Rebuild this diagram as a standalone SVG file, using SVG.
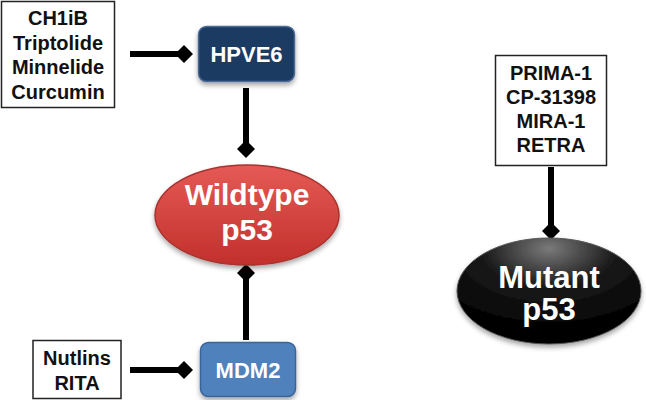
<svg xmlns="http://www.w3.org/2000/svg" width="646" height="400" viewBox="0 0 646 400">
<defs>
<style>
.box{fill:#fff;stroke:#222;stroke-width:1.5}
.lbl{font-family:"Liberation Sans",Arial,sans-serif;font-weight:bold;font-size:20px;text-anchor:middle;fill:#111}
.wl{font-family:"Liberation Sans",Arial,sans-serif;font-weight:bold;text-anchor:middle;fill:#fff}
.con{stroke:#000;stroke-width:6;fill:none;marker-end:url(#dia)}
</style>
<marker id="dia" markerUnits="userSpaceOnUse" viewBox="0 0 18 18" refX="9" refY="9" markerWidth="18" markerHeight="18" orient="auto">
<path d="M0 9 L9 0 L18 9 L9 18 Z" fill="#000"/>
</marker>
<linearGradient id="red" x1="0" y1="0" x2="0" y2="1">
<stop offset="0" stop-color="#e55a55"/>
<stop offset="1" stop-color="#c2302c"/>
</linearGradient>
<radialGradient id="blk" cx="0.5" cy="0.1" r="0.8">
<stop offset="0" stop-color="#7a7a7a"/>
<stop offset="0.45" stop-color="#1a1a1a"/>
<stop offset="1" stop-color="#000"/>
</radialGradient>
<filter id="sh" x="-20%" y="-20%" width="140%" height="150%">
<feDropShadow dx="0" dy="3" stdDeviation="2.5" flood-color="#000" flood-opacity="0.35"/>
</filter>
</defs>
<g id="connectors">
<line class="con" x1="130" y1="54" x2="184" y2="54"/>
<line class="con" x1="246" y1="88" x2="246" y2="149"/>
<line class="con" x1="130" y1="370" x2="184" y2="370"/>
<line class="con" x1="246" y1="340" x2="246" y2="273"/>
<line class="con" x1="551" y1="167" x2="551" y2="231"/>
</g>
<g id="inhib1">
<rect class="box" x="1.5" y="1.5" width="113" height="106"/>
<text class="lbl" x="58" y="25">CH1iB</text>
<text class="lbl" x="58" y="49.5">Triptolide</text>
<text class="lbl" x="58" y="74">Minnelide</text>
<text class="lbl" x="58" y="98.5">Curcumin</text>
</g>
<g id="hpve6">
<rect x="198.5" y="26.5" width="96" height="55" rx="8" fill="#1e3a63" stroke="#4b6b99" stroke-width="1.5" filter="url(#sh)"/>
<text class="wl" x="246.5" y="62" font-size="22">HPVE6</text>
</g>
<g id="wildtype">
<ellipse cx="247" cy="215" rx="92" ry="50" fill="url(#red)" stroke="#a8322e" stroke-width="1.5" filter="url(#sh)"/>
<text class="wl" x="247" y="205" font-size="30">Wildtype</text>
<text class="wl" x="247" y="240" font-size="30">p53</text>
</g>
<g id="inhib2">
<rect class="box" x="33" y="340.5" width="88" height="58"/>
<text class="lbl" x="77" y="365">Nutlins</text>
<text class="lbl" x="77" y="390">RITA</text>
</g>
<g id="mdm2">
<rect x="200.5" y="342.5" width="95" height="54" rx="8" fill="#4f81bd" stroke="#3a6598" stroke-width="1.5" filter="url(#sh)"/>
<text class="wl" x="248" y="378" font-size="22">MDM2</text>
</g>
<g id="inhib3">
<rect class="box" x="495.5" y="55.5" width="111" height="110"/>
<text class="lbl" x="551" y="80">PRIMA-1</text>
<text class="lbl" x="551" y="104">CP-31398</text>
<text class="lbl" x="551" y="128">MIRA-1</text>
<text class="lbl" x="551" y="152">RETRA</text>
</g>
<g id="mutant">
<ellipse cx="549" cy="291" rx="92" ry="53" fill="url(#blk)" stroke="#555" stroke-width="1" filter="url(#sh)"/>
<text class="wl" x="549" y="288" font-size="31">Mutant</text>
<text class="wl" x="549" y="320" font-size="31">p53</text>
</g>
</svg>
